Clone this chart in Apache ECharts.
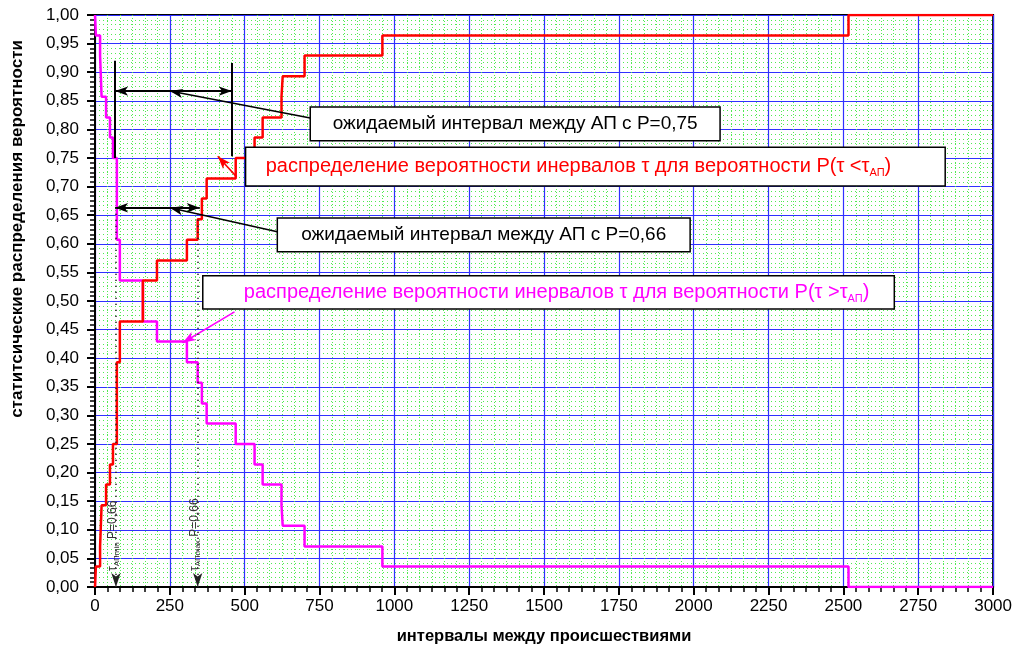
<!DOCTYPE html>
<html>
<head>
<meta charset="utf-8">
<script src="https://cdn.jsdelivr.net/npm/echarts@6/dist/echarts.min.js"></script>
<style>
html,body{margin:0;padding:0;background:#fff;}
#chart{width:1015px;height:651px;}
</style>
</head>
<body>
<div id="chart"></div>
<script>
// ---- data ----
const stepX = [0, 3, 17, 22, 37, 50, 60, 73, 83, 160, 207, 307, 343, 357, 373, 470, 533, 560, 623, 627, 700, 960, 2517, 3000];
const redY = [0, 0.036, 0.071, 0.143, 0.179, 0.214, 0.25, 0.393, 0.464, 0.536, 0.571, 0.607, 0.643, 0.679, 0.714, 0.75, 0.786, 0.821, 0.857, 0.893, 0.929, 0.964, 1.0, 1.0];
const magentaY = [1.0, 0.964, 0.929, 0.857, 0.821, 0.786, 0.75, 0.607, 0.536, 0.464, 0.429, 0.393, 0.357, 0.321, 0.286, 0.25, 0.214, 0.179, 0.143, 0.107, 0.071, 0.036, 0, 0];
const xRange = [0, 3000];
const yRange = [0, 1];
const xStep = 250;
const yStep = 0.05;
const tauMin = 70;     // τ_АП min at P=0,66
const tauMax = 343;    // τ_АП max at P=0,66
const p066 = 0.663;
const p075 = 0.867;
const interval75 = [67, 457];
const xTitle = 'интервалы между происшествиями';
const yTitle = 'статитсические распределения вероятности';
const box1Text = 'ожидаемый интервал между АП с P=0,75';
const box2Text = 'ожидаемый интервал между АП с P=0,66';
const redText = ['распределение вероятности инервалов τ для вероятности P(τ <τ', 'АП', ')'];
const magText = ['распределение вероятности инервалов τ для вероятности P(τ >τ', 'АП', ')'];

const FONT = '"Liberation Sans", Arial, sans-serif';
const chart = echarts.init(document.getElementById('chart'), null, {renderer: 'canvas'});

const redData = stepX.map((x, i) => [x, redY[i]]);
const magData = stepX.map((x, i) => [x, magentaY[i]]);

function seg(a, b, opts) {
  opts = opts || {};
  return [
    {coord: a, symbol: opts.s1 || 'none', symbolSize: opts.size || [7, 13]},
    {coord: b, symbol: opts.s2 || 'none', symbolSize: opts.size || [7, 13],
     lineStyle: Object.assign({color: '#000', width: 1.5, type: 'solid'}, opts.ls || {})}
  ];
}

const annotLines = [
  seg([interval75[0], 0.92], [interval75[0], 0.75], {ls: {width: 2}}),
  seg([interval75[1], 0.916], [interval75[1], 0.753], {ls: {width: 2}}),
  seg([interval75[0], p075], [interval75[1], p075], {s1: 'arrow', s2: 'arrow', ls: {width: 2}}),
  seg([719, 0.82], [250, p075], {s2: 'arrow'}),
  seg([interval75[0], p066], [350, p066], {s1: 'arrow', s2: 'arrow', ls: {width: 2}}),
  seg([609, 0.621], [250, p066], {s2: 'arrow'}),
  seg([473, 0.717], [410, 0.753], {s2: 'arrow', ls: {color: '#ff0000', width: 1.5}}),
  seg([466, 0.481], [293, 0.427], {s2: 'arrow', ls: {color: '#ff00ff', width: 1.5}}),
  seg([tauMin, p066], [tauMin, 0], {s2: 'arrow', size: [7, 14], ls: {type: [1, 5], width: 2, color: '#222'}}),
  seg([tauMax, p066], [tauMax, 0], {s2: 'arrow', size: [7, 14], ls: {type: [1, 5], width: 2, color: '#222'}})
];

const option = {
  animation: false,
  backgroundColor: '#fff',
  grid: {left: 95, right: 19, top: 15, bottom: 64, show: true, borderColor: '#000', borderWidth: 2, backgroundColor: 'transparent'},
  xAxis: {
    type: 'value', min: xRange[0], max: xRange[1], interval: xStep,
    name: xTitle, nameLocation: 'middle', nameGap: 41,
    nameTextStyle: {fontFamily: FONT, fontWeight: 'bold', fontSize: 16.5, color: '#000'},
    axisLine: {show: true, onZero: false, lineStyle: {color: '#000', width: 2}},
    axisTick: {show: true, inside: false, length: 8, lineStyle: {color: '#000', width: 2}},
    minorTick: {show: true, splitNumber: 6, length: 5, lineStyle: {color: '#000', width: 1.5}},
    axisLabel: {fontFamily: FONT, fontSize: 17, color: '#000', margin: 11, formatter: v => String(v)},
    splitLine: {show: true, lineStyle: {color: '#3030ff', width: 1.2}},
    minorSplitLine: {show: true, lineStyle: {color: '#52ea52', width: 1, type: [1, 2]}}
  },
  yAxis: {
    type: 'value', min: yRange[0], max: yRange[1], interval: yStep,
    axisLine: {show: true, onZero: false, lineStyle: {color: '#000', width: 2}},
    axisTick: {show: true, inside: false, length: 8, lineStyle: {color: '#000', width: 2}},
    minorTick: {show: true, splitNumber: 6, length: 5, lineStyle: {color: '#000', width: 1.5}},
    axisLabel: {fontFamily: FONT, fontSize: 17, color: '#000', margin: 16,
      formatter: v => v.toFixed(2).replace('.', ',')},
    splitLine: {show: true, lineStyle: {color: '#3030ff', width: 1.2}},
    minorSplitLine: {show: true, lineStyle: {color: '#52ea52', width: 1, type: [1, 3]}}
  },
  series: [
    {
      name: 'P(τ>τАП)', type: 'line', step: 'end', data: magData, showSymbol: false, symbol: 'none',
      lineStyle: {color: '#ff00ff', width: 2.5}, z: 3
    },
    {
      name: 'P(τ<τАП)', type: 'line', step: 'end', data: redData, showSymbol: false, symbol: 'none',
      lineStyle: {color: '#ff0000', width: 2.5}, z: 4,
      markLine: {silent: true, animation: false, label: {show: false}, emphasis: {disabled: true},
        symbol: ['none', 'none'], data: annotLines, z: 6}
    }
  ]
};
chart.setOption(option);

function P(x, y) { return chart.convertToPixel({gridIndex: 0}, [x, y]); }

function box(x1, y1, x2, y2, content, textCx) {
  const a = P(x1, y1), b = P(x2, y2);
  const rx = Math.min(a[0], b[0]), ry = Math.min(a[1], b[1]);
  const w = Math.abs(b[0] - a[0]), h = Math.abs(b[1] - a[1]);
  const cx = textCx != null ? P(textCx, y1)[0] : rx + w / 2;
  return {
    type: 'group', z: 100,
    children: [
      {type: 'rect', shape: {x: rx, y: ry, width: w, height: h},
       style: {fill: '#fff', stroke: '#000', lineWidth: 1.5}, z: 100},
      Object.assign({type: 'text', z: 101}, {style: Object.assign({x: cx, y: ry + h / 2, align: 'center', verticalAlign: 'middle'}, content)})
    ]
  };
}

function plain(text) {
  return {text: text, font: '19px ' + FONT, fill: '#000'};
}
function withSub(parts, color) {
  return {
    text: '{a|' + parts[0] + '}{s|' + parts[1] + '}{a|' + parts[2] + '}',
    rich: {
      a: {fontSize: 20, fontFamily: FONT, fill: color, lineHeight: 24, verticalAlign: 'middle'},
      s: {fontSize: 11, fontFamily: FONT, fill: color, lineHeight: 11, verticalAlign: 'bottom'}
    }
  };
}

function vlabel(x, y, sub) {
  const p = P(x, y);
  return {
    type: 'text', x: p[0] - 3, y: p[1], rotation: Math.PI / 2, z: 50,
    style: {
      text: '{a|τ}{s|' + sub + '}{a| P=0,66}',
      align: 'left', verticalAlign: 'middle',
      rich: {
        a: {fontSize: 12, fontFamily: FONT, fill: '#333', lineHeight: 15},
        s: {fontSize: 8, fontFamily: FONT, fill: '#333', lineHeight: 8, verticalAlign: 'bottom'}
      }
    }
  };
}

function ytitle(yCenter) {
  const p = P(0, yCenter);
  return {
    type: 'text', x: 17, y: p[1], rotation: Math.PI / 2, z: 50,
    style: {text: yTitle, align: 'center', verticalAlign: 'middle',
      font: 'bold 17px ' + FONT, fill: '#000'}
  };
}

chart.setOption({
  graphic: [
    box(719, 0.839, 2088, 0.780, plain(box1Text)),
    box(503, 0.769, 2840, 0.701, withSub(redText, '#ff0000'), 1615),
    box(609, 0.645, 1988, 0.586, plain(box2Text)),
    box(360, 0.544, 2670, 0.486, withSub(magText, '#ff00ff'), 1542),
    vlabel(tauMin, 0.028, 'АПmin'),
    vlabel(tauMax, 0.028, 'АПmax'),
    ytitle(0.626)
  ]
});
</script>
</body>
</html>
